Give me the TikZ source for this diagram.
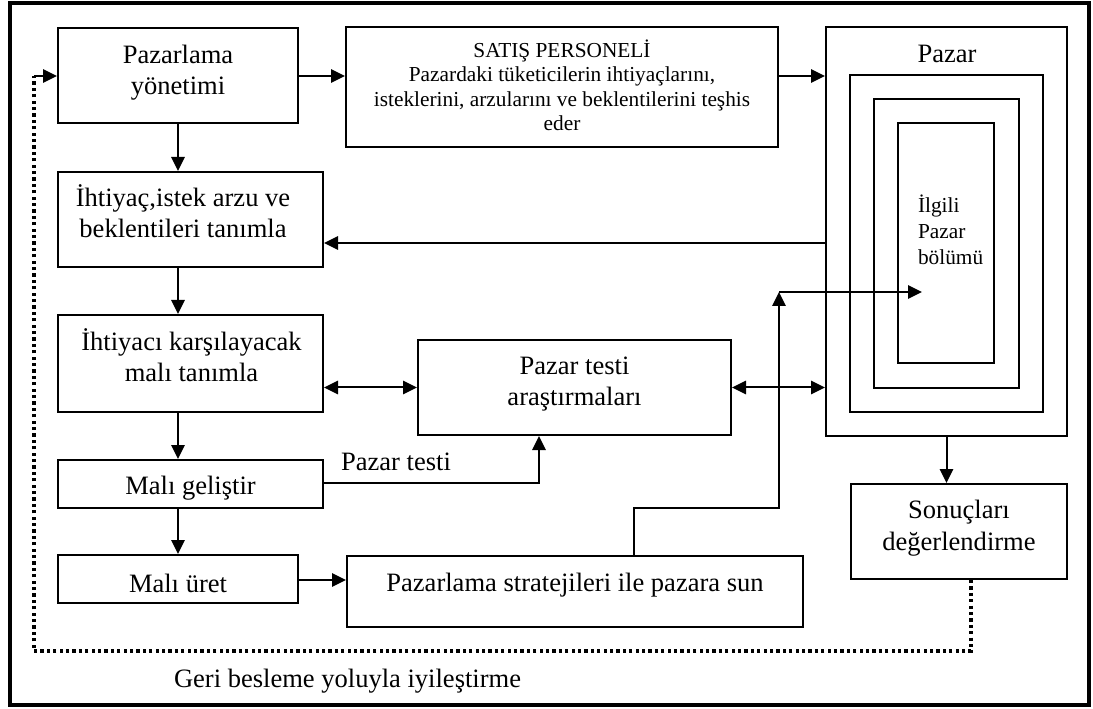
\documentclass[tikz,border=0pt]{standalone}
\usepackage{fontspec}
\setmainfont{Liberation Serif}
\usetikzlibrary{arrows.meta}
\newcommand\mainsz{\fontsize{19.9}{23.3}\selectfont}
\newcommand\satsz{\fontsize{16}{18.4}\selectfont}
\newcommand\segsz{\fontsize{16}{19.5}\selectfont}
\begin{document}
\begin{tikzpicture}[x=0.75pt,y=-0.75pt,line width=1.5pt,
  tip/.style={-{Triangle[length=10.5pt,width=10pt]}},
  bothtips/.style={{Triangle[length=10.5pt,width=10pt]}-{Triangle[length=10.5pt,width=10pt]}},
  box/.style={draw,rectangle,inner sep=0pt},
  sz/.style 2 args={minimum width=#1*0.75pt,minimum height=#2*0.75pt},
  txt/.style={inner sep=0pt,align=center,font=\mainsz,anchor=base},
  feedback/.style={line width=2.4pt,dash pattern=on 2.4pt off 2.4pt}]
\useasboundingbox (0,0) rectangle (1093,709);
% outer frame
\draw[line width=3pt] (9.5,3) rectangle (1089,705);

% boxes
\node[box,sz={240}{95}] (yon) at (178,75.5) {};
\node[box,sz={432}{120}] (satis) at (562,87) {};
\node[box,sz={265}{95}] (ihtiyac) at (190.5,219.5) {};
\node[box,sz={265}{97}] (karsila) at (190.5,363.5) {};
\node[box,sz={265}{48}] (gelistir) at (190.5,484) {};
\node[box,sz={240}{48}] (uret) at (178,579) {};
\node[box,sz={456}{71}] (strat) at (575,591.5) {};
\node[box,sz={313}{95}] (ptest) at (574.5,387.5) {};
\node[box,sz={216}{95}] (sonuc) at (959,531.5) {};

% market with nested segments
\node[box,sz={241}{409}] (pazar) at (946.5,231.5) {};
\node[box,sz={193}{337}] (seg2) at (946.5,243.5) {};
\node[box,sz={145}{289}] (seg3) at (946.5,243.5) {};
\node[box,sz={96}{240}] (seg4) at (946,243) {};

% texts (placed by the baseline of their last line)
\node[txt] (yonT) at (178,95) {Pazarlama\\yönetimi};
\node[txt,font=\satsz] (satisT) at (562,131) {SATIŞ PERSONELİ\\Pazardaki tüketicilerin ihtiyaçlarını,\\isteklerini, arzularını ve beklentilerini teşhis\\eder};
\node[txt] (ihtiyacT) at (183,238) {İhtiyaç,istek arzu ve\\beklentileri tanımla};
\node[txt] (karsilaT) at (191.5,382) {İhtiyacı karşılayacak\\malı tanımla};
\node[txt] (gelistirT) at (190.5,494) {Malı geliştir};
\node[txt] (uretT) at (178,592) {Malı üret};
\node[txt] (stratT) at (575,591.5) {Pazarlama stratejileri ile pazara sun};
\node[txt] (ptestT) at (574.5,406) {Pazar testi\\araştırmaları};
\node[txt] (sonucT) at (959,550) {Sonuçları\\değerlendirme};
\node[txt] (pazarT) at (947,63) {Pazar};
\node[txt,font=\segsz,align=left,anchor=base west] (segT) at (917,265) {İlgili\\Pazar\\bölümü};
\node[txt] (ptestL) at (396,470) {Pazar testi};
\node[txt,anchor=base west] (fbT) at (173,687) {Geri besleme yoluyla iyileştirme};

% helper points
\coordinate (r76) at (0,76);
\coordinate (r243) at (0,243);
\coordinate (c539) at (539,0);
\coordinate (k1) at (634,508);
\coordinate (k2) at (779,508);
\coordinate (seg) at (779,292);
\coordinate (segtip) at (922,292);
\coordinate (fb1) at (971,0);
\coordinate (fb2) at (971,651);
\coordinate (fb3) at (34,651);
\coordinate (fb4) at (34,76);

% connectors
\draw[tip] (yon.east |- r76) -- (satis.west |- r76);
\draw[tip] (satis.east |- r76) -- (pazar.west |- r76);
\draw[tip] (yon.south) -- (yon.south |- ihtiyac.north);
\draw[tip] (yon.south |- ihtiyac.south) -- (yon.south |- karsila.north);
\draw[tip] (yon.south |- karsila.south) -- (yon.south |- gelistir.north);
\draw[tip] (yon.south |- gelistir.south) -- (uret.north);
\draw[tip] (pazar.west |- r243) -- (ihtiyac.east |- r243);
\draw[bothtips] (karsila.east |- ptest.west) -- (ptest.west);
\draw[bothtips] (ptest.east) -- (pazar.west |- ptest.east);
\draw[tip] (gelistir.east |- 0,483) -| (c539 |- ptest.south);
\draw[tip] (k1 |- strat.north) -- (k1) -- (k2) -- (seg);
\draw[tip] (seg) -- (segtip);
\draw[tip] (uret.east |- 0,580) -- (strat.west |- 0,580);
\draw[tip] (pazar.south) -- (pazar.south |- sonuc.north);
% feedback loop
\draw[feedback] (fb1 |- sonuc.south) -- (fb2) -- (fb3) -- (fb4);
\draw[tip] (fb4) -- (yon.west |- fb4);
\end{tikzpicture}
\end{document}
